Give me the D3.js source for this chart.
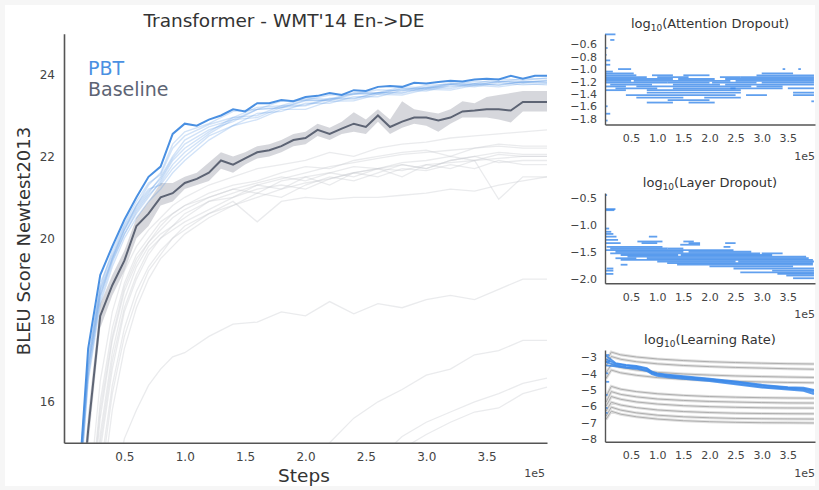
<!DOCTYPE html>
<html><head><meta charset="utf-8">
<script src="https://cdn.jsdelivr.net/npm/d3@7"></script>
<style>
html,body{margin:0;padding:0;background:#f6f6f6;}
svg{display:block;font-family:"DejaVu Sans",sans-serif;}
</style></head><body>
<svg id="chart" width="819" height="490"></svg>
<script>
// ---------- DATA (steps in units of 1e5) ----------
const steps = [0.1,0.2,0.3,0.4,0.5,0.6,0.7,0.8,0.9,1.0,1.1,1.2,1.3,1.4,1.5,1.6,1.7,1.8,1.9,2.0,2.1,2.2,2.3,2.4,2.5,2.6,2.7,2.8,2.9,3.0,3.1,3.2,3.3,3.4,3.5,3.6,3.7,3.8,3.9,4.0];
const pbtBest = [13.0,17.3,19.1,19.8,20.45,21.0,21.5,21.75,22.55,22.8, 22.75,22.9,23.0,23.15,23.1,23.3,23.3,23.38,23.35,23.45, 23.48,23.55,23.5,23.62,23.6,23.7,23.72,23.7,23.8,23.78, 23.82,23.85,23.83,23.88,23.9,23.88,23.97,23.9,23.97,23.97];
const baselineMean = [12.0,15.3,18.1,18.85,19.45,20.3,20.6,21.0,21.1,21.35, 21.45,21.6,21.9,21.8,21.95,22.1,22.15,22.25,22.4,22.45, 22.65,22.55,22.68,22.8,22.72,23.0,22.72,22.85,22.95,22.95, 22.88,22.95,23.1,23.12,23.15,23.15,23.12,23.33,23.33,23.33];
const baselineLow = [11.7,14.9,17.8,18.6,19.2,20.0,20.3,20.8,20.9,21.2, 21.3,21.4,21.7,21.6,21.8,21.95,22.0,22.1,22.25,22.3, 22.5,22.4,22.55,22.6,22.55,22.85,22.55,22.7,22.8,22.75, 22.6,22.8,22.95,22.95,22.95,22.9,22.83,23.1,23.1,23.1];
const baselineHigh = [12.3,15.7,18.4,19.1,19.7,20.5,20.9,21.35,21.35,21.5, 21.6,21.85,22.1,22.0,22.1,22.25,22.3,22.4,22.55,22.6, 22.8,22.7,22.85,23.08,22.9,23.15,22.9,23.35,23.15,23.1, 23.05,23.15,23.35,23.3,23.45,23.5,23.55,23.6,23.6,23.6];

const faintSteps = [0.1,0.2,0.3,0.4,0.5,0.6,0.7,0.8,0.9,1.0,1.2,1.4,1.6,1.8,2.0,2.2,2.4,2.6,2.8,3.0,3.2,3.4,3.6,3.8,4.0];
const pbtMembers = [
  [13.2,17.0,18.9,19.6,20.3,20.8,21.3,21.6,22.3,22.6, 22.8,23.1,23.15,23.35,23.38,23.5,23.52,23.63,23.6,23.74,23.76,23.83,23.82,23.9,23.9],
  [13.0,16.8,18.6,19.5,20.2,20.7,21.1,21.5,22.0,22.4, 22.72,22.9,23.15,23.2,23.38,23.36,23.52,23.55,23.65,23.66,23.77,23.75,23.83,23.82,23.85],
  [12.8,16.6,18.5,19.4,20.1,20.6,21.0,21.4,21.9,22.2, 22.6,22.95,23.0,23.24,23.26,23.42,23.42,23.56,23.56,23.7,23.7,23.78,23.75,23.82,23.8],
  [12.9,16.9,18.7,19.5,20.2,20.8,21.2,21.3,21.7,22.0, 22.5,22.75,23.05,23.1,23.3,23.3,23.46,23.46,23.62,23.6,23.74,23.7,23.8,23.75,23.78],
  [12.6,16.5,18.4,19.3,20.0,20.5,20.9,21.2,21.6,21.9, 22.4,22.75,22.9,23.15,23.15,23.35,23.36,23.52,23.5,23.64,23.62,23.74,23.7,23.78,23.75],
  [13.1,17.1,18.8,19.7,20.35,20.9,21.35,21.55,22.2,22.5, 22.78,22.95,23.2,23.24,23.42,23.4,23.56,23.56,23.7,23.68,23.8,23.78,23.9,23.86,23.92],
  [12.7,16.7,18.6,19.45,20.1,20.65,21.05,21.35,21.8,22.1, 22.55,22.9,22.95,23.2,23.24,23.4,23.4,23.56,23.54,23.68,23.66,23.78,23.74,23.83,23.82],
  [12.9,16.85,18.75,19.55,20.25,20.75,21.15,21.45,21.95,22.3, 22.65,22.85,23.15,23.18,23.36,23.38,23.54,23.52,23.66,23.64,23.77,23.73,23.84,23.8,23.86]
];
const randomRuns = [
  [10,13.5,16.5,18.2,19.2,19.8,20.2,20.5,20.8,21.0, 21.3,21.5,21.7,21.8,21.9,22.1,22.0,22.2,22.3,22.35,22.45,22.5,22.55,22.6,22.65],
  [10,13,16,17.8,18.9,19.6,20.0,20.4,20.6,20.8, 21.1,21.3,21.4,21.6,21.75,21.7,21.9,22.0,22.1,22.15,22.0,22.2,22.3,22.25,22.25],
  [9,12.5,15.6,17.5,18.7,19.4,19.9,20.2,20.5,20.7, 21.0,21.2,21.35,21.5,21.4,21.6,21.75,21.7,21.85,21.9,22.0,21.9,22.05,22.0,22.0],
  [9,12,15.2,17.2,18.5,19.3,19.8,20.1,20.3,20.5, 20.9,21.1,21.3,21.2,21.5,21.6,21.5,21.7,21.8,21.7,21.9,22.0,21.85,21.9,21.9],
  [8,11.5,14.8,16.8,18.2,19.0,19.6,20.0,20.2,20.4, 20.7,21.0,21.2,21.3,21.2,21.45,21.6,21.5,21.7,21.65,21.8,21.7,21.9,21.8,21.8],
  [9,12.8,15.8,17.6,18.8,19.5,19.9,20.3,20.6,20.8, 21.0,21.2,21.1,21.4,21.5,21.3,21.6,21.7,21.5,21.8,21.7,21.9,20.95,21.5,21.5],
  [8,11,14.3,16.4,17.8,18.7,19.3,19.7,20.0,20.3, 20.6,20.9,20.4,20.9,21.0,20.95,21.0,21.0,21.05,21.1,21.2,21.15,21.3,21.4,21.5],
  [8.5,12,15,17,18.3,19.1,19.7,20.0,20.3,20.6, 20.9,21.0,21.3,21.45,21.6,21.75,21.85,21.95,22.05,22.1,22.15,22.2,22.25,22.2,22.2],
  [7,10,13.5,15.8,17.3,18.3,19.0,19.5,19.8,20.1, 20.5,20.8,21.0,21.2,21.35,21.45,21.6,21.7,21.65,21.8,21.85,21.9,21.95,22.0,22.0],
  [7.5,10.5,14,16.2,17.6,18.5,19.2,19.6,20.0,20.2, 20.6,20.8,21.1,21.0,21.3,21.5,21.4,21.6,21.8,21.7,21.9,22.0,22.1,22.05,22.05],
  [0,5,10,13.5,15.1,15.8,16.4,16.8,17.1,17.2, 17.6,17.9,17.95,18.2,18.1,18.45,18.15,18.4,18.3,18.5,18.6,18.5,18.75,19.0,19.0],
  [5,5,5,5,5,5,5,5,5,5, 8,9,10,12,14.3,15.0,15.6,16.0,16.3,16.65,16.8,17.15,17.25,17.5,17.5],
  [5,5,5,5,5,5,5,5,5,5, 5,5,5,5,5,5,5,14.6,15.15,15.5,15.75,16.0,16.2,16.45,16.58],
  [5,5,5,5,5,5,5,5,5,5, 5,5,5,5,5,5,5,5,14.85,15.2,15.5,15.75,15.85,16.2,16.36]
];
const mainXTicks = [0.5,1.0,1.5,2.0,2.5,3.0,3.5];
const mainYTicks = [16,18,20,22,24];

// hyper-parameter traces: [startStep, endStep, value]
const attnSegments = [
  [0.0,0.2,-0.44],[0.1,0.18,-0.53],[0.0,0.05,-0.66],[0.0,0.03,-0.77],[0.0,0.1,-0.86],[0.0,0.1,-0.93],
  [0.0,0.05,-1.6],[0.0,0.1,-1.72],[0.0,0.05,-1.83],
  [0.25,0.5,-1.0],[3.4,3.45,-1.0],[3.7,3.75,-1.0],
  [0.0,0.15,-1.04],
  [0.0,0.55,-1.07],[3.0,3.6,-1.07],
  [0.0,0.6,-1.1],[0.9,1.3,-1.1],[1.5,2.0,-1.1],[2.9,4.0,-1.1],
  [0.0,0.8,-1.13],[1.0,1.6,-1.13],[2.2,2.6,-1.13],[2.6,4.0,-1.13],
  [0.0,1.3,-1.16],[1.4,2.1,-1.16],[2.3,4.0,-1.16],
  [0.0,0.5,-1.19],[0.55,2.4,-1.19],[2.5,4.0,-1.19],
  [0.0,1.2,-1.22],[1.2,2.0,-1.22],[2.05,2.9,-1.22],[3.0,4.0,-1.22],
  [0.1,0.9,-1.25],[1.3,2.2,-1.25],[2.3,4.0,-1.25],
  [0.0,0.4,-1.28],[0.6,2.8,-1.28],[2.9,3.4,-1.28],
  [0.2,1.0,-1.31],[1.3,2.5,-1.31],[2.4,3.4,-1.31],[3.5,4.0,-1.31],
  [0.0,0.4,-1.34],[0.8,2.6,-1.34],
  [0.8,2.6,-1.38],[3.6,4.0,-1.38],
  [0.4,2.5,-1.42],[2.7,3.1,-1.42],[3.6,4.0,-1.42],
  [0.6,1.5,-1.46],[1.9,2.6,-1.46],
  [1.2,2.0,-1.5],
  [0.8,1.3,-1.54],[1.6,2.1,-1.54],[3.95,4.0,-1.52]
];
const attnTicks = [-1.8,-1.6,-1.4,-1.2,-1.0,-0.8,-0.6];

const layerSegments = [
  [0,0.04,-0.44],[0,0.2,-0.7],[0.02,0.18,-0.72],[0,0.08,-1.06],[0,0.12,-1.12],[0,0.16,-1.16],
  [0,0.22,-1.21],[0.84,1.0,-1.21],[0,0.25,-1.27],[0.62,1.1,-1.3],[1.5,1.7,-1.3],
  [0.0,0.3,-1.33],[0.7,1.0,-1.33],[1.6,1.82,-1.33],[2.3,2.5,-1.33],[1.44,1.82,-1.36],
  [0.03,1.1,-1.4],[2.27,2.4,-1.4],[0.1,1.2,-1.43],[1.2,1.5,-1.43],[0.0,2.46,-1.46],
  [0.2,1.5,-1.49],[1.6,2.8,-1.49],[0.1,2.97,-1.52],[3.0,3.4,-1.52],[0.3,1.4,-1.55],[1.45,3.2,-1.55],
  [0.43,3.85,-1.58],[0.2,0.6,-1.61],[0.8,3.9,-1.61],[0.3,3.98,-1.64],[1.0,2.5,-1.67],[2.55,4.0,-1.67],
  [1.19,3.98,-1.7],[0.3,0.43,-1.73],[1.38,3.98,-1.73],[2.0,3.6,-1.76],[0.03,0.16,-1.8],[2.46,4.0,-1.8],
  [0.0,0.16,-1.84],[3.2,4.0,-1.84],[2.59,4.0,-1.87],[0.0,0.16,-1.9],[3.3,4.0,-1.9],[3.47,4.0,-1.93],[3.6,4.0,-1.98]
];
const layerTicks = [-2.0,-1.5,-1.0,-0.5];

const lrSteps = [0.02,0.12,0.3,0.6,1.0,1.5,2.0,2.5,3.0,3.5,4.0];
const lrRandom = [
  [-3.3,-2.68,-2.85,-2.98,-3.1,-3.2,-3.27,-3.32,-3.36,-3.39,-3.41],
  [-3.55,-2.95,-3.12,-3.27,-3.4,-3.5,-3.57,-3.62,-3.66,-3.7,-3.73],
  [-3.95,-3.45,-3.62,-3.78,-3.92,-4.02,-4.09,-4.14,-4.18,-4.21,-4.23],
  [-4.3,-3.78,-3.95,-4.1,-4.24,-4.35,-4.42,-4.47,-4.51,-4.54,-4.56],
  [-5.4,-4.78,-4.95,-5.1,-5.23,-5.33,-5.4,-5.44,-5.47,-5.49,-5.5],
  [-5.75,-5.1,-5.27,-5.42,-5.55,-5.64,-5.7,-5.74,-5.77,-5.79,-5.8],
  [-6.0,-5.4,-5.57,-5.73,-5.86,-5.96,-6.02,-6.06,-6.09,-6.1,-6.11],
  [-6.3,-5.75,-5.92,-6.08,-6.22,-6.32,-6.38,-6.42,-6.44,-6.45,-6.46],
  [-6.6,-6.05,-6.23,-6.4,-6.54,-6.64,-6.7,-6.74,-6.76,-6.77,-6.78],
  [-6.8,-6.3,-6.48,-6.64,-6.78,-6.88,-6.94,-6.98,-7.0,-7.01,-7.02]
];
const lrPbtSteps = [0.02,0.2,0.4,0.6,0.8,0.9,1.0,1.2,1.5,2.0,2.5,3.0,3.5,3.8,4.0];
const lrPbt = [
  [-3.1,-3.4,-3.5,-3.57,-3.7,-3.92,-4.02,-4.1,-4.2,-4.34,-4.52,-4.72,-4.86,-4.92,-5.05],
  [-3.3,-3.48,-3.58,-3.64,-3.78,-3.98,-4.08,-4.16,-4.26,-4.4,-4.6,-4.8,-4.92,-4.98,-5.15],
  [-3.5,-3.56,-3.64,-3.7,-3.84,-4.04,-4.14,-4.22,-4.32,-4.46,-4.66,-4.86,-4.97,-5.05,-5.25],
  [-2.9,-3.35,-3.46,-3.53,-3.66,-3.88,-3.98,-4.06,-4.16,-4.3,-4.48,-4.68,-4.82,-4.86,-5.0]
];
const lrDashes = [[0,0.08,-2.86],[0,0.1,-3.26],[0,0.06,-3.98],[0,0.08,-4.5],[0,0.05,-5.3],[0,0.05,-6.1],[0,0.05,-6.4]];
const lrTicks = [-8,-7,-6,-5,-4,-3];
const subXTicks = [0.5,1.0,1.5,2.0,2.5,3.0,3.5];

// ---------- DRAW ----------
const BLUE = "#4a90e2", BASE = "#5d6474", SUBBLUE = "#3a88ea";
const svg = d3.select("#chart");
svg.append("rect").attr("x",5).attr("y",5).attr("width",810).attr("height",481).attr("fill","#fff");
const defs = svg.append("defs");

// main chart
const x = d3.scaleLinear().domain([0,4.0]).range([64,547]);
const y = d3.scaleLinear().domain([15,25]).range([442.7,33.7]);
defs.append("clipPath").attr("id","mainClip").append("rect")
  .attr("x",64).attr("y",30).attr("width",486).attr("height",412.7);
const plot = svg.append("g").attr("clip-path","url(#mainClip)");

const fLine = d3.line().x((d,i)=>x(faintSteps[i])).y(d=>y(d));
plot.selectAll("path.rand").data(randomRuns).join("path").attr("class","rand")
  .attr("d",fLine).attr("fill","none").attr("stroke","#c9cad0").attr("stroke-opacity",0.38).attr("stroke-width",1.3);

const area = d3.area().x((d,i)=>x(steps[i])).y0((d,i)=>y(baselineLow[i])).y1((d,i)=>y(baselineHigh[i]));
plot.append("path").datum(baselineMean).attr("d",area).attr("fill","#c4c6cd").attr("fill-opacity",0.7);

plot.selectAll("path.pbtm").data(pbtMembers).join("path").attr("class","pbtm")
  .attr("d",fLine).attr("fill","none").attr("stroke",BLUE).attr("stroke-opacity",0.25).attr("stroke-width",1.4);

const mLine = d3.line().x((d,i)=>x(steps[i])).y(d=>y(d));
plot.append("path").datum(baselineMean).attr("d",mLine).attr("fill","none").attr("stroke",BASE).attr("stroke-width",2);
plot.append("path").datum(pbtBest).attr("d",mLine).attr("fill","none").attr("stroke",BLUE).attr("stroke-width",2);

// main axes
const yAx = svg.append("g").attr("transform","translate(64,0)")
  .call(d3.axisLeft(y).tickValues(mainYTicks).tickFormat(d3.format("d")).tickSize(0).tickSizeOuter(0).tickPadding(9));
const xAx = svg.append("g").attr("transform","translate(0,442.7)")
  .call(d3.axisBottom(x).tickValues(mainXTicks).tickFormat(d3.format(".1f")).tickSize(0).tickSizeOuter(0).tickPadding(10));
[yAx,xAx].forEach(a=>{
  a.select(".domain").attr("stroke","#555").attr("stroke-width",1.6);
  a.selectAll("text").attr("font-size",12).attr("fill","#444").attr("font-family","DejaVu Sans");
});
svg.append("text").attr("x",545).attr("y",477).attr("text-anchor","end").attr("font-size",11).attr("fill","#444").text("1e5");

svg.append("text").attr("x",284).attr("y",27).attr("text-anchor","middle").attr("font-size",18.5).attr("fill","#333")
  .text("Transformer - WMT'14 En->DE");
svg.append("text").attr("transform","translate(30,241) rotate(-90)").attr("text-anchor","middle").attr("font-size",18).attr("fill","#333")
  .text("BLEU Score Newtest2013");
svg.append("text").attr("x",304).attr("y",482).attr("text-anchor","middle").attr("font-size",18.5).attr("fill","#333").text("Steps");

svg.append("text").attr("x",88).attr("y",75).attr("font-size",19).attr("fill",BLUE).text("PBT");
svg.append("text").attr("x",88).attr("y",96).attr("font-size",19).attr("fill",BASE).text("Baseline");

// subplots
const sx = d3.scaleLinear().domain([0,4.02]).range([605,815]);
function subplot(cfg){
  const sy = d3.scaleLinear().domain(cfg.dom).range([cfg.bottom,cfg.top]);
  const g = svg.append("g");
  cfg.draw(g, sy);
  const ya = g.append("g").attr("transform","translate(605,0)")
    .call(d3.axisLeft(sy).tickValues(cfg.ticks).tickFormat(cfg.fmt).tickSize(0).tickSizeOuter(0).tickPadding(8));
  const xa = g.append("g").attr("transform",`translate(0,${cfg.bottom})`)
    .call(d3.axisBottom(sx).tickValues(subXTicks).tickFormat(d3.format(".1f")).tickSize(0).tickSizeOuter(0).tickPadding(10));
  [ya,xa].forEach(a=>{
    a.select(".domain").attr("stroke","#555").attr("stroke-width",1.4);
    a.selectAll("text").attr("font-size",11).attr("fill","#444").attr("font-family","DejaVu Sans");
  });
  g.append("text").attr("x",815).attr("y",cfg.bottom+35).attr("text-anchor","end").attr("font-size",11).attr("fill","#444").text("1e5");
  const t = g.append("text").attr("x",710).attr("y",cfg.top-6).attr("text-anchor","middle").attr("font-size",13).attr("fill","#333");
  t.append("tspan").text("log");
  t.append("tspan").attr("font-size",9).attr("dy",3).text("10");
  t.append("tspan").attr("dy",-3).text(cfg.title);
}
function drawSegs(g, sy, data, w){
  g.selectAll(null).data(data).join("line")
    .attr("x1",d=>sx(d[0])).attr("x2",d=>sx(d[1]))
    .attr("y1",d=>sy(d[2])).attr("y2",d=>sy(d[2]))
    .attr("stroke",SUBBLUE).attr("stroke-opacity",0.8).attr("stroke-width",w);
}
const minus = d3.format(".1f");
subplot({dom:[-1.894,-0.434], top:34, bottom:124.5, ticks:attnTicks, fmt:minus, title:"(Attention Dropout)",
  draw:(g,sy)=>drawSegs(g,sy,attnSegments,1.8)});
subplot({dom:[-2.074,-0.402], top:193, bottom:283.3, ticks:layerTicks, fmt:minus, title:"(Layer Dropout)",
  draw:(g,sy)=>drawSegs(g,sy,layerSegments,1.8)});
subplot({dom:[-8.165,-2.553], top:350, bottom:441.7, ticks:lrTicks, fmt:d3.format("d"), title:"(Learning Rate)",
  draw:(g,sy)=>{
    const ln = d3.line().x((d,i)=>sx(lrSteps[i])).y(d=>sy(d));
    g.selectAll("path.halo").data(lrRandom).join("path").attr("class","halo").attr("d",ln)
      .attr("fill","none").attr("stroke","#e0e0e0").attr("stroke-width",3);
    g.selectAll("path.core").data(lrRandom).join("path").attr("class","core").attr("d",ln)
      .attr("fill","none").attr("stroke","#a8a8a8").attr("stroke-width",0.9);
    const lb = d3.line().x((d,i)=>sx(lrPbtSteps[i])).y(d=>sy(d));
    g.selectAll("path.pb").data(lrPbt).join("path").attr("class","pb").attr("d",lb)
      .attr("fill","none").attr("stroke",SUBBLUE).attr("stroke-opacity",0.85).attr("stroke-width",1.8);
    drawSegs(g,sy,lrDashes,1.8);
  }});
</script>
</body></html>
